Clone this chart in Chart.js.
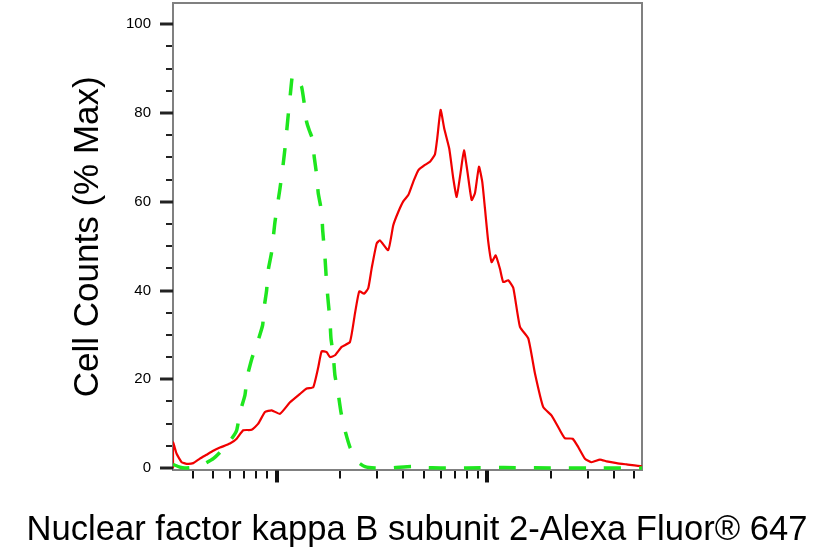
<!DOCTYPE html>
<html><head><meta charset="utf-8">
<script src="https://cdn.jsdelivr.net/npm/chart.js@4.4.1/dist/chart.umd.min.js"></script>
<style>html,body{margin:0;padding:0;background:#fff;} #wrap{width:834px;height:559px;}</style>
</head><body>
<div id="wrap"><canvas id="c" width="834" height="559"></canvas></div>
<script>
// ---- data ----
const redX = [322, 322, 335, 354, 374, 402, 432, 465, 500, 538, 600, 646, 694, 761, 818, 880, 947, 1037, 1157, 1290, 1388, 1492, 1576, 1636, 1727, 1791, 1891, 2035, 2229, 2354, 2467, 2600, 2722, 2826, 2985, 3093, 3388, 3579, 3779, 3992, 4217, 4453, 4704, 5061, 5346, 5645, 5788, 6007, 6248, 6599, 6895, 7157, 7477, 7752, 8035, 8432, 8742, 9134, 9469, 9752, 10110, 10490, 10960, 11490, 11910, 12580, 13290, 14300, 15660, 16850, 18450, 20220, 22140, 23380, 25440, 27050, 29100, 31310, 34290, 36900, 41160, 45910, 54300, 54300];
const redY = [0, 5.8, 3.2, 1.3, 0.95, 1.1, 2.1, 3.0, 3.9, 4.6, 5.5, 6.6, 8.5, 8.6, 10.0, 12.6, 13.0, 12.2, 14.8, 16.7, 17.9, 18.2, 22.7, 26.3, 26.1, 25.0, 25.4, 27.3, 28.4, 34.8, 39.8, 39.3, 40.5, 45.0, 50.6, 51.3, 49.1, 54.7, 57.7, 60.1, 61.5, 64.5, 67.1, 68.3, 69.0, 70.7, 74.3, 80.7, 76.5, 72.0, 65.3, 61.1, 66.7, 71.6, 67.1, 60.4, 61.9, 67.9, 64.5, 58.5, 51.0, 46.4, 47.9, 44.9, 41.9, 42.3, 40.6, 31.8, 29.2, 21.3, 13.7, 11.8, 8.5, 6.7, 6.6, 4.7, 2.1, 1.3, 1.9, 1.5, 1.1, 0.8, 0.35, 0];

const greenX = [322, 347, 367, 424, 457, 500, 550, 611, 646, 670, 707, 725, 763, 812, 858, 873, 896, 912, 947, 982, 1037, 1071, 1101, 1132, 1163, 1189, 1222, 1262, 1314, 1352, 1388, 1431, 1476, 1508, 1549, 1576, 1636, 1654, 1696, 1727, 1758, 1791, 1811, 1857, 1891, 1961, 2020, 2110, 2229, 2440, 2627, 2930, 3500, 4370, 5000, 6000, 8000, 12000, 20000, 30000, 54300];
const greenY = [0.8, 0.2, 0.0, 0.3, 1.0, 2.1, 4.0, 6.6, 8.5, 12.6, 16.4, 20.6, 24.7, 28.4, 32.2, 36.3, 40.0, 44.6, 48.7, 55.5, 63, 68, 73, 79, 84.5, 88.6, 88.3, 87.3, 85.9, 82.2, 78.0, 76.0, 74.3, 70.1, 66.0, 61.9, 57.7, 53.6, 47.5, 41.6, 37.4, 33.3, 29.2, 25.4, 20.9, 16.7, 12.6, 8.5, 4.7, 1.3, 0.3, 0.0, 0.0, 0.35, 0.1, 0.0, 0.0, 0.1, 0.0, 0.0, 0.0];

const xTicks = [400, 500, 600, 700, 800, 900, 1000, 2000, 3000, 4000, 5000, 6000, 7000, 8000, 9000, 10000, 20000, 30000, 40000, 50000];
const xMajorTicks = [1000, 10000];
const yTicks = [0, 5, 10, 15, 20, 25, 30, 35, 40, 45, 50, 55, 60, 65, 70, 75, 80, 85, 90, 95, 100];
const yMajorTicks = [0, 20, 40, 60, 80, 100];
const xRange = [322, 54300];
const yRange = [-0.56, 104.8];
const xTitle = 'Nuclear factor kappa B subunit 2-Alexa Fluor® 647';
const yTitle = 'Cell Counts (% Max)';

// ---- chart ----
const FONT = "'Liberation Sans', Arial, Helvetica, sans-serif";
const toPts = (xs, ys) => xs.map((x, i) => ({x: x, y: ys[i]}));

const majorTickPlugin = {
  id: 'majorTicks',
  afterDraw(chart) {
    const ctx = chart.ctx, x = chart.scales.x, y = chart.scales.y;
    ctx.save();
    ctx.strokeStyle = '#111';
    ctx.lineWidth = 4;
    xMajorTicks.forEach(v => {
      const px = Math.round(x.getPixelForValue(v));
      ctx.beginPath(); ctx.moveTo(px, x.top); ctx.lineTo(px, x.top + 12); ctx.stroke();
    });
    ctx.strokeStyle = '#222';
    ctx.lineWidth = 3;
    yMajorTicks.forEach(v => {
      const py = Math.round(y.getPixelForValue(v));
      ctx.beginPath(); ctx.moveTo(y.right - 13, py); ctx.lineTo(y.right, py); ctx.stroke();
    });
    ctx.restore();
  }
};

new Chart(document.getElementById('c'), {
  type: 'scatter',
  data: {
    datasets: [
      { label: 'Isotype', data: toPts(greenX, greenY), showLine: true, borderColor: '#1ee61e',
        borderWidth: 3.5, borderDash: [17, 18], pointRadius: 0, tension: 0.15, order: 0 },
      { label: 'NFKB2', data: toPts(redX, redY), showLine: true, borderColor: '#f00000',
        borderWidth: 2.2, pointRadius: 0, tension: 0.15, order: 1 }
    ]
  },
  options: {
    responsive: false,
    animation: false,
    layout: { padding: 0 },
    plugins: {
      legend: { display: false },
      tooltip: { enabled: false },
      title: { display: true, position: 'bottom', text: xTitle, color: '#000',
        font: { family: FONT, size: 34.6, weight: 'normal', lineHeight: 1.2 },
        padding: { top: 0, bottom: 8 } }
    },
    scales: {
      x: {
        type: 'logarithmic', position: 'bottom', min: xRange[0], max: xRange[1],
        afterBuildTicks: s => { s.ticks = xTicks.map(v => ({ value: v })); },
        afterFit: s => { s.height = 39; s.paddingLeft = 0; s.paddingRight = 0; },
        ticks: { autoSkip: false, maxRotation: 0, padding: 0, callback: () => '' },
        grid: { drawOnChartArea: false, drawTicks: true, tickLength: 8, tickWidth: 2, tickColor: '#111', lineWidth: 2 },
        border: { display: true, color: '#808080', width: 2 }
      },
      xTop: {
        type: 'linear', position: 'top', min: 0, max: 1,
        afterFit: s => { s.height = 3; },
        ticks: { display: false },
        grid: { display: false, drawTicks: false },
        border: { display: true, color: '#808080', width: 2 }
      },
      y: {
        type: 'linear', position: 'left', min: yRange[0], max: yRange[1],
        afterBuildTicks: s => { s.ticks = yTicks.map(v => ({ value: v })); },
        afterFit: s => { s.width = 173; s.paddingTop = 0; s.paddingBottom = 0; },
        ticks: { autoSkip: false, padding: 15, color: '#000', font: { family: FONT, size: 15 },
          callback: v => yMajorTicks.includes(v) ? String(v) : '' },
        grid: { drawOnChartArea: false, tickLength: 7, tickWidth: 2, tickColor: '#222', lineWidth: 2 },
        border: { display: true, color: '#808080', width: 2 },
        title: { display: true, text: yTitle, color: '#000',
          font: { family: FONT, size: 35, lineHeight: 1.2 }, padding: { top: 67, bottom: 0 } }
      },
      yRight: {
        type: 'linear', position: 'right', min: 0, max: 1,
        afterFit: s => { s.width = 192; },
        ticks: { display: false },
        grid: { display: false, drawTicks: false },
        border: { display: true, color: '#808080', width: 2 }
      }
    }
  },
  plugins: [majorTickPlugin]
});
</script>
</body></html>
